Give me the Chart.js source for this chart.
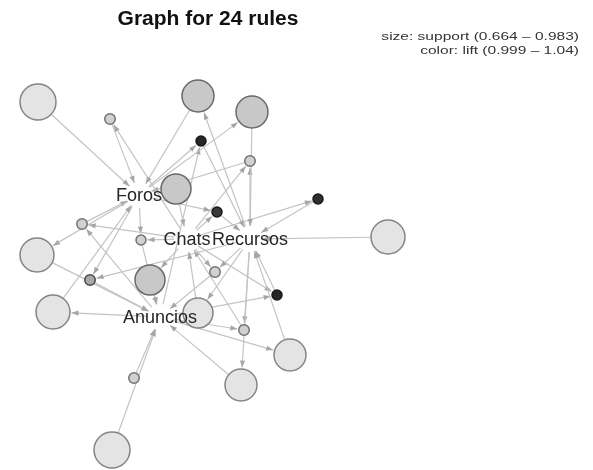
<!DOCTYPE html>
<html>
<head>
<meta charset="utf-8">
<script src="https://cdn.jsdelivr.net/npm/chart.js@4.4.1/dist/chart.umd.min.js"></script>
<style>
  body { margin: 0; background: #fff; }
</style>
</head>
<body>
<canvas id="graph" width="593" height="470"></canvas>
<script>
// item vertices (layout position on the plot)
const items = ['Foros', 'Chats', 'Recursos', 'Anuncios'];
const itemX = [139, 187, 250, 160];
const itemY = [195, 239, 239, 317];

// rule vertices
const ruleX = [38, 198, 252, 176, 388, 37, 150, 53, 198, 290, 241, 112,
               110, 201, 250, 318, 217, 82, 141, 90, 215, 277, 244, 134];
const ruleY = [102, 96, 112, 189, 237, 255, 280, 312, 313, 355, 385, 450,
               119, 141, 161, 199, 212, 224, 240, 280, 272, 295, 330, 378];
const ruleSupport = [0.983, 0.934, 0.934, 0.909, 0.958, 0.958, 0.909, 0.958, 0.909, 0.934, 0.934, 0.983,
                     0.670, 0.664, 0.670, 0.664, 0.664, 0.670, 0.664, 0.670, 0.670, 0.664, 0.670, 0.670];
const ruleLift = [0.999, 1.005, 1.005, 1.005, 0.999, 0.999, 1.005, 0.999, 0.999, 0.999, 0.999, 0.999,
                  1.003, 1.040, 1.003, 1.038, 1.036, 1.003, 1.003, 1.012, 1.003, 1.040, 1.003, 1.003];
const ruleLhs = [[], ['Recursos'], ['Foros'], [], [], ['Foros'], ['Chats'], ['Anuncios'],
                 ['Recursos'], ['Anuncios'], ['Recursos'], [],
                 ['Chats'], ['Foros', 'Anuncios'], ['Recursos', 'Chats'], ['Chats'], ['Foros', 'Chats'],
                 ['Chats', 'Anuncios'], ['Foros', 'Chats'], ['Recursos', 'Foros'], ['Chats', 'Recursos'],
                 ['Anuncios', 'Chats'], ['Anuncios', 'Recursos'], []];
const ruleRhs = ['Foros', 'Foros', 'Recursos', 'Chats', 'Recursos', 'Anuncios', 'Anuncios', 'Foros',
                 'Chats', 'Recursos', 'Anuncios', 'Anuncios',
                 'Foros', 'Recursos', 'Foros', 'Recursos', 'Recursos', 'Foros', 'Anuncios', 'Anuncios',
                 'Anuncios', 'Recursos', 'Chats', 'Anuncios'];

const supportRange = [0.664, 0.983];
const liftRange = [0.999, 1.04];

const radiusOf = s => 5 + (s - supportRange[0]) / (supportRange[1] - supportRange[0]) * 13;
const greyOf = l => {
  const v = Math.min(1, Math.max(0, (l - liftRange[0]) / (liftRange[1] - liftRange[0])));
  return Math.round(228 - 190 * v);
};
const fills = ruleLift.map(l => { const g = greyOf(l); return `rgb(${g},${g},${g})`; });
const borders = ruleLift.map(l => { const g = Math.max(25, greyOf(l) - 95); return `rgb(${g},${g},${g})`; });
const radii = ruleSupport.map(radiusOf);

// edges: lhs item -> rule, rule -> rhs item
const ITEM_GAP = 13;
const edges = [];
ruleX.forEach((rx, i) => {
  const ry = ruleY[i];
  ruleLhs[i].forEach(name => {
    const k = items.indexOf(name);
    edges.push({ from: [itemX[k], itemY[k]], to: [rx, ry], gapFrom: ITEM_GAP, gapTo: radii[i] + 1.5 });
  });
  const k = items.indexOf(ruleRhs[i]);
  edges.push({ from: [rx, ry], to: [itemX[k], itemY[k]], gapFrom: radii[i], gapTo: ITEM_GAP });
});

// shorten each segment so the arrow stops at the vertex border (1 data unit = 1 px)
const edgeSets = edges.map(e => {
  const dx = e.to[0] - e.from[0], dy = e.to[1] - e.from[1];
  const len = Math.hypot(dx, dy);
  const ux = dx / len, uy = dy / len;
  return {
    type: 'scatter',
    isEdge: true,
    data: [
      { x: e.from[0] + ux * e.gapFrom, y: e.from[1] + uy * e.gapFrom },
      { x: e.to[0] - ux * e.gapTo, y: e.to[1] - uy * e.gapTo }
    ],
    showLine: true,
    borderColor: '#c4c4c4',
    borderWidth: 1.2,
    pointRadius: 0,
    order: 2
  };
});

const arrowPlugin = {
  id: 'arrows',
  afterDatasetDraw(chart, args) {
    const ds = chart.data.datasets[args.index];
    if (!ds.isEdge) return;
    const [a, b] = args.meta.data;
    const ctx = chart.ctx;
    ctx.save();
    ctx.translate(b.x, b.y);
    ctx.rotate(Math.atan2(b.y - a.y, b.x - a.x));
    ctx.fillStyle = '#a6a6a6';
    ctx.beginPath();
    ctx.moveTo(0, 0);
    ctx.lineTo(-7, -2.6);
    ctx.lineTo(-7, 2.6);
    ctx.closePath();
    ctx.fill();
    ctx.restore();
  }
};

function stretchedText(ctx, text, x, y, font, align, sx) {
  ctx.save();
  ctx.translate(x, y);
  ctx.scale(sx, 1);
  ctx.font = font;
  ctx.textAlign = align;
  ctx.fillText(text, 0, 0);
  ctx.restore();
}

const labelPlugin = {
  id: 'labels',
  afterDraw(chart) {
    const ctx = chart.ctx;
    const idx = chart.data.datasets.findIndex(d => d.isItem);
    const pts = chart.getDatasetMeta(idx).data;
    ctx.save();
    ctx.fillStyle = '#262626';
    ctx.textBaseline = 'middle';
    pts.forEach((p, i) => {
      stretchedText(ctx, items[i], p.x, p.y + 1, '18px "Liberation Sans", Arial, sans-serif', 'center', 1);
    });
    ctx.textBaseline = 'alphabetic';
    ctx.fillStyle = '#111';
    stretchedText(ctx, 'Graph for 24 rules', 208, 25, 'bold 20px "Liberation Sans", Arial, sans-serif', 'center', 1.05);
    ctx.fillStyle = '#333';
    stretchedText(ctx, 'size: support (0.664 \u2013 0.983)', 579, 40, '11.5px "Liberation Sans", Arial, sans-serif', 'right', 1.35);
    stretchedText(ctx, 'color: lift (0.999 \u2013 1.04)', 579, 54, '11.5px "Liberation Sans", Arial, sans-serif', 'right', 1.35);
    ctx.restore();
  }
};

new Chart(document.getElementById('graph'), {
  type: 'scatter',
  data: {
    datasets: [
      {
        label: 'rules',
        data: ruleX.map((x, i) => ({ x, y: ruleY[i] })),
        pointRadius: radii,
        pointBackgroundColor: fills,
        pointBorderColor: borders,
        pointBorderWidth: 1.5,
        clip: false,
        order: 1
      },
      {
        label: 'items',
        isItem: true,
        data: itemX.map((x, i) => ({ x, y: itemY[i] })),
        pointRadius: 0,
        order: 0
      },
      ...edgeSets
    ]
  },
  options: {
    responsive: false,
    animation: false,
    layout: { padding: 0, autoPadding: false },
    scales: {
      x: { type: 'linear', min: 0, max: 593, display: false },
      y: { type: 'linear', min: 0, max: 470, reverse: true, display: false }
    },
    plugins: {
      legend: { display: false },
      tooltip: { enabled: false }
    }
  },
  plugins: [arrowPlugin, labelPlugin]
});
</script>
</body>
</html>
